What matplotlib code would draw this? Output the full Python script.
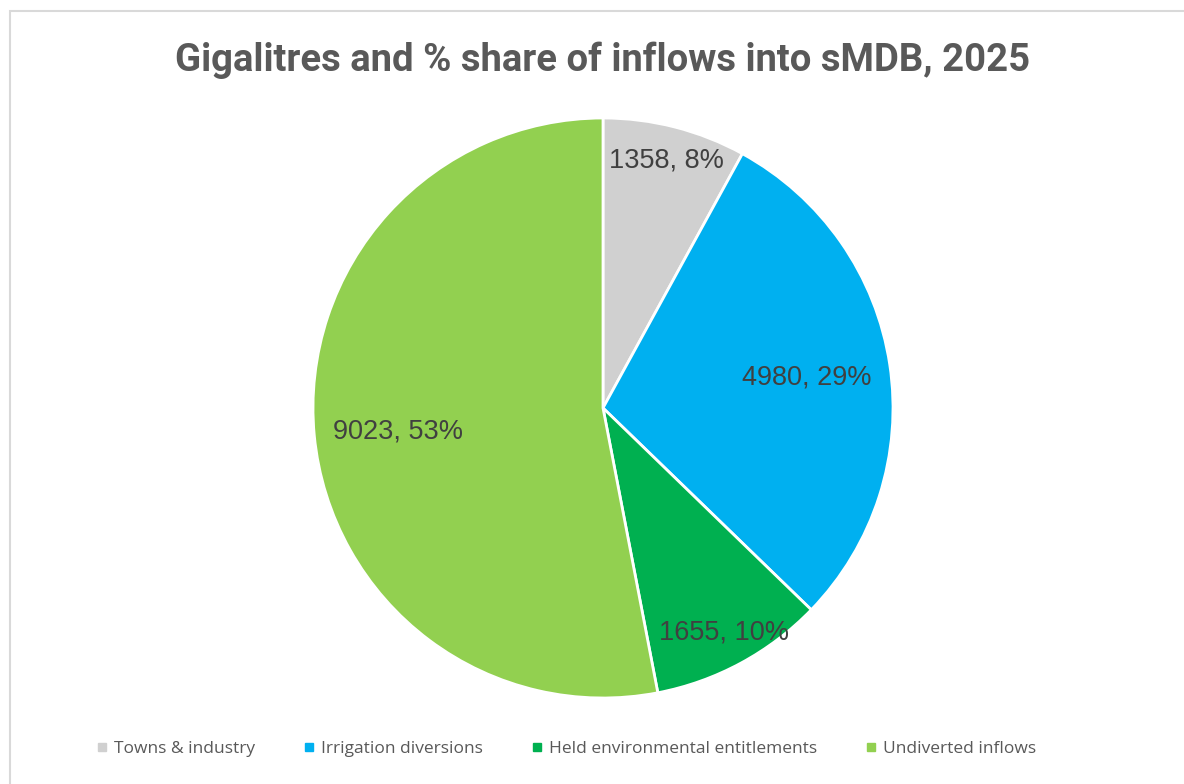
import numpy as np
import matplotlib.pyplot as plt
from matplotlib.patches import Rectangle
from matplotlib.lines import Line2D

categories = ["Towns & industry", "Irrigation diversions",
              "Held environmental entitlements", "Undiverted inflows"]
gigalitres = [1358, 4980, 1655, 9023]
shares = [8, 29, 10, 53]
colours = ["#D0D0D0", "#00B0F0", "#00B050", "#92D050"]

# where Excel's best-fit put each label (fraction of radius, angle nudge in degrees)
label_r = [0.88, 0.71, 0.88, 0.71]
label_nudge = [0, 0, 0, -1]

fig = plt.figure(figsize=(11.84, 7.84), dpi=100)
fig.patches.append(Rectangle((10 / 1184, -0.1), 1.2, 1 - 11 / 784 + 0.1,
                             transform=fig.transFigure, fill=False,
                             edgecolor="#D9D9D9", linewidth=1.5))

ax = fig.add_axes([313 / 1184, 86 / 784, 580 / 1184, 580 / 784])
wedges, _ = ax.pie(gigalitres, colors=colours, startangle=90, counterclock=False,
                   radius=1, wedgeprops=dict(edgecolor="white", linewidth=2))
ax.set_xlim(-1, 1)
ax.set_ylim(-1, 1)
ax.set_aspect("equal")

for w, g, s, r, nd in zip(wedges, gigalitres, shares, label_r, label_nudge):
    mid = np.deg2rad((w.theta1 + w.theta2) / 2 - nd)
    ax.text(r * np.cos(mid), r * np.sin(mid), f"{g}, {s}%", ha="center", va="center",
            fontsize=19.5, color="#404040", family=["Liberation Sans", "DejaVu Sans"])

fig.text(0.509, 1 - 60 / 784, "Gigalitres and % share of inflows into sMDB, 2025",
         ha="center", va="center", fontsize=27.5, fontweight="bold", color="#595959",
         family=["Roboto", "DejaVu Sans"])

handles = [Line2D([], [], marker="s", linestyle="none", markersize=6,
                  markerfacecolor=c, markeredgecolor=c) for c in colours]
fig.legend(handles, categories, loc="center", bbox_to_anchor=(566 / 1184, 1 - 749 / 784),
           ncol=4, frameon=False, handlelength=0.7, handletextpad=0.3, columnspacing=2.8,
           labelcolor="#595959", prop=dict(family=["Open Sans", "DejaVu Sans"], size=12.5))

fig.savefig("out.png", dpi=100, facecolor="white")
